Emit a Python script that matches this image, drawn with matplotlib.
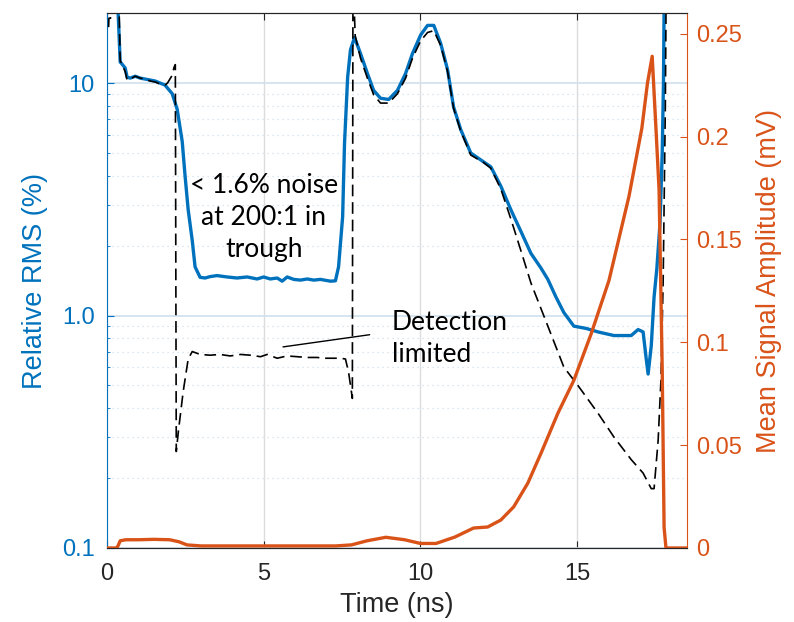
import matplotlib.pyplot as plt
import numpy as np
from matplotlib.ticker import FixedLocator, LogLocator, NullFormatter

BLUE = "#0072BD"
ORANGE = "#D95319"
AXIS_GREY = "#262626"

# relative RMS (%) - measured
rms_time = [0.30, 0.42, 0.45, 0.58, 0.64, 0.74, 0.90, 1.06, 1.22, 1.38, 1.54, 1.69, 1.85,
            2.08, 2.24, 2.40, 2.49, 2.59, 2.72, 2.81, 2.97, 3.13, 3.29, 3.51, 3.83, 4.15,
            4.47, 4.79, 5.00, 5.21, 5.43, 5.59, 5.75, 5.96, 6.17, 6.39, 6.60, 6.81, 7.13,
            7.29, 7.39, 7.52, 7.58, 7.68, 7.77, 7.90, 8.09, 8.31, 8.51, 8.73, 8.99, 9.27,
            9.53, 9.75, 10.01, 10.23, 10.43, 10.65, 10.87, 11.06, 11.29, 11.61, 12.02,
            12.25, 12.57, 12.89, 13.21, 13.53, 13.85, 14.07, 14.33, 14.58, 14.90, 15.29,
            15.67, 16.18, 16.73, 16.95, 17.11, 17.21, 17.27, 17.37, 17.46, 17.55, 17.65,
            17.72, 17.76, 17.79]
rms_value = [30.0, 12.3, 12.2, 11.6, 10.6, 10.5, 10.7, 10.5, 10.4, 10.3, 10.2, 10.0, 9.8,
             9.0, 7.7, 5.6, 4.0, 2.85, 2.1, 1.62, 1.46, 1.45, 1.47, 1.485, 1.465, 1.45,
             1.465, 1.436, 1.465, 1.436, 1.45, 1.405, 1.465, 1.43, 1.42, 1.436, 1.42, 1.43,
             1.405, 1.41, 1.62, 2.66, 5.5, 10.6, 13.9, 15.7, 13.4, 11.0, 9.3, 8.6, 8.5, 9.3,
             11.0, 13.4, 16.1, 17.7, 17.7, 14.8, 11.4, 7.9, 6.3, 5.0, 4.58,
             4.36, 3.6, 2.85, 2.3, 1.85, 1.6, 1.43, 1.2, 1.03, 0.90, 0.88,
             0.85, 0.82, 0.82, 0.87, 0.85, 0.65, 0.56, 0.74, 1.2, 1.6, 2.5,
             5.0, 10.0, 30.0]

# dashed reference curve (%)
ref_time = [0.05, 0.06, 0.11, 0.14, 0.36, 0.42, 0.58, 0.64, 0.74, 0.90, 1.06, 1.22, 1.38,
            1.54, 1.69, 1.85, 1.93, 2.08, 2.14, 2.18, 2.21, 2.28, 2.43, 2.59, 2.72, 2.97,
            3.29, 3.61, 3.93, 4.26, 4.58, 4.90, 5.11, 5.43, 5.75, 6.07, 6.39, 6.71, 6.92,
            7.24, 7.45, 7.61, 7.71, 7.80, 7.83, 7.85, 7.92, 8.09, 8.31, 8.51, 8.73, 8.99,
            9.27, 9.53, 9.75, 10.01, 10.23, 10.43, 10.65, 10.87, 11.06, 11.29, 11.61,
            12.02, 12.25, 12.57, 12.89, 13.21, 13.53, 14.07, 14.58, 15.03, 15.67, 16.18,
            16.73, 17.11, 17.37, 17.46, 17.59, 17.68, 17.75, 17.82, 17.85]
ref_value = [17.4, 19.0, 19.0, 30.0, 30.0, 12.5, 11.2, 10.3, 10.4, 10.7, 10.5, 10.4, 10.2,
             10.1, 9.9, 9.8, 10.0, 10.8, 11.7, 12.0, 0.26, 0.32, 0.47, 0.65, 0.70, 0.68,
             0.675, 0.68, 0.67, 0.68, 0.675, 0.665, 0.68, 0.655, 0.67, 0.665, 0.66, 0.66,
             0.655, 0.655, 0.655, 0.65, 0.57, 0.47, 0.44, 30.0, 16.0, 12.8, 10.5, 8.9, 8.2, 8.2,
             9.0, 10.5, 12.8, 15.2, 16.5, 16.8, 14.5, 11.2, 7.8, 6.2, 4.9,
             4.55, 4.3, 3.5, 2.6, 1.9, 1.38, 0.9, 0.6, 0.5, 0.38, 0.30,
             0.24, 0.21, 0.18, 0.18, 0.29, 0.53, 1.4, 8.0, 30.0]

# mean signal amplitude (mV)
amp_time = [0.0, 0.30, 0.35, 0.42, 0.60, 1.00, 1.50, 2.00, 2.30, 2.55, 3.00, 5.00, 7.30,
            7.80, 8.30, 8.90, 9.50, 10.00, 10.50, 11.10, 11.70, 12.15, 12.57, 12.98, 13.43,
            13.85, 14.39, 14.90, 15.45, 16.02, 16.66, 17.07, 17.25, 17.40, 17.52, 17.62,
            17.72, 17.78, 17.84, 18.50]
amp_value = [0.0, 0.0, 0.001, 0.0035, 0.004, 0.004, 0.0042, 0.004, 0.003, 0.0015, 0.001,
             0.001, 0.001, 0.0015, 0.0035, 0.0052, 0.004, 0.0022, 0.0022, 0.0053, 0.0097,
             0.0102, 0.0136, 0.020, 0.0315, 0.046, 0.0655, 0.0815, 0.104, 0.130, 0.171,
             0.204, 0.226, 0.239, 0.204, 0.174, 0.087, 0.01, 0.0, 0.0]

noise_note = "< 1.6% noise\nat 200:1 in\ntrough"
limit_note = "Detection\nlimited"

fig = plt.figure(figsize=(7.94, 6.22), dpi=100)
ax = fig.add_axes([0.1348, 0.119, 0.73, 0.86])
ax2 = ax.twinx()

tick_font = "Liberation Sans"
note_font = "Lato"

ax.set_yscale("log")
ax.set_xlim(0, 18.5)
ax.set_ylim(0.1, 20)
ax.set_xticks([0, 5, 10, 15])
ax.yaxis.set_major_locator(FixedLocator([0.1, 1, 10]))
ax.set_yticklabels(["0.1", "1.0", "10"])
ax.yaxis.set_minor_locator(LogLocator(base=10, subs=np.arange(2, 10)))
ax.yaxis.set_minor_formatter(NullFormatter())

ax.grid(axis="x", which="major", color="#dcdcdc", lw=1.0)
ax.grid(axis="y", which="major", color="#cfe0ee", lw=1.2)
ax.grid(axis="y", which="minor", color="#cfe0ee", lw=0.9, linestyle=(0, (1, 3)))
ax.set_axisbelow(True)

ax.plot(rms_time, rms_value, color=BLUE, lw=2.4, zorder=3)
ax.plot(ref_time, ref_value, color="black", lw=1.2, linestyle=(0, (7, 3.5)), zorder=4)

ax2.plot(amp_time, amp_value, color=ORANGE, lw=2.4)
ax2.set_ylim(0, 0.26)
ax2.set_yticks([0, 0.05, 0.1, 0.15, 0.2, 0.25])
ax2.set_yticklabels(["0", "0.05", "0.1", "0.15", "0.2", "0.25"])

for a in (ax, ax2):
    for s in ("top", "bottom"):
        a.spines[s].set_color(AXIS_GREY)
ax.spines["left"].set_color(BLUE)
ax.spines["right"].set_visible(False)
ax2.spines["right"].set_color(ORANGE)
ax2.spines["left"].set_visible(False)

ax.tick_params(axis="x", which="major", direction="in", top=True, length=5,
               colors=AXIS_GREY, labelsize=17, pad=11)
ax.tick_params(axis="y", which="major", direction="in", length=5, colors=BLUE,
               labelsize=17, right=False, pad=9)
ax.tick_params(axis="y", which="minor", direction="in", length=2.5, colors=BLUE,
               right=False)
ax2.tick_params(axis="y", direction="in", length=5, colors=ORANGE, labelsize=17, pad=7)

for lab in ax.get_xticklabels() + ax.get_yticklabels() + ax2.get_yticklabels():
    lab.set_fontfamily(tick_font)

ax.set_xlabel("Time (ns)", fontsize=19.5, family=tick_font, color=AXIS_GREY, labelpad=5)
ax.set_ylabel("Relative RMS (%)", fontsize=19.5, family=tick_font, color=BLUE, labelpad=10)
ax2.set_ylabel("Mean Signal Amplitude (mV)", fontsize=19.5, family=tick_font,
               color=ORANGE, labelpad=10)

ax.text(5.0, 2.63, noise_note, ha="center", va="center", fontsize=19,
        family=note_font, linespacing=1.35, zorder=5)
ax.text(9.08, 0.80, limit_note, ha="left", va="center", fontsize=19,
        family=note_font, linespacing=1.35, zorder=5)
ax.annotate("", xy=(5.53, 0.73), xytext=(8.47, 0.83),
            arrowprops=dict(arrowstyle="-", color="black", lw=1.0))

fig.savefig("out.png", dpi=100)
